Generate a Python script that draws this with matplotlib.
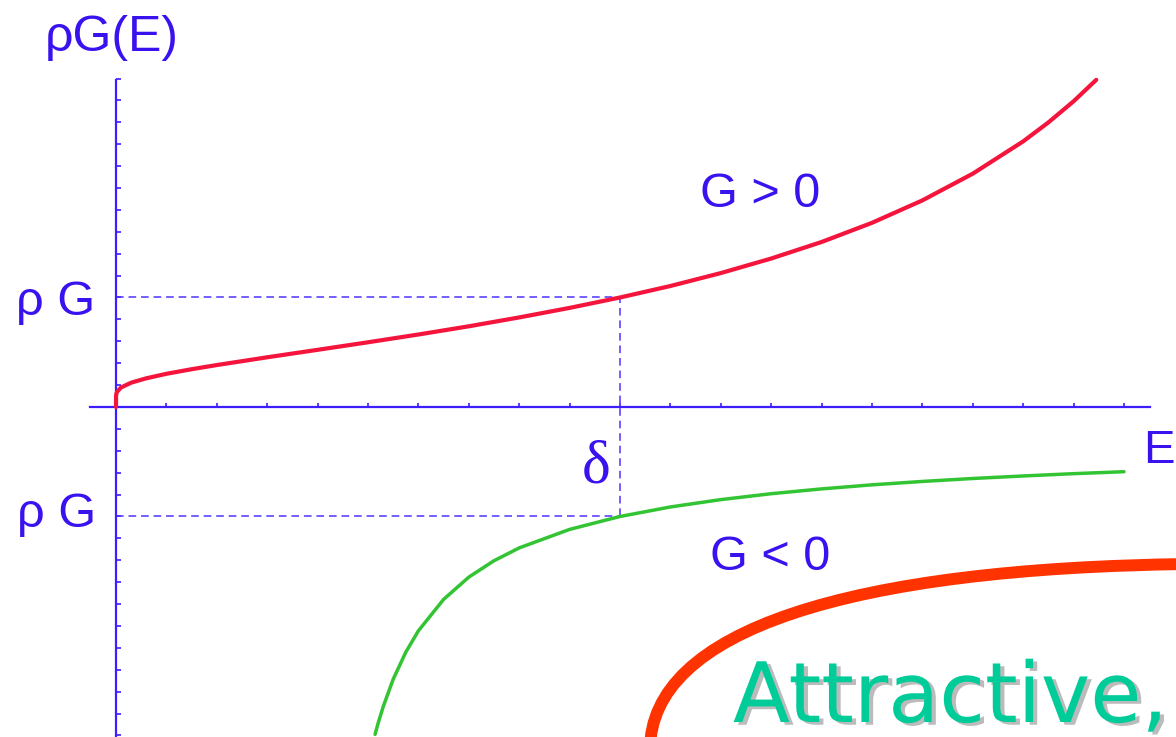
# running coupling rho*G(E) for both signs of G, with delta and rho*G marked

import matplotlib.pyplot as plt
import matplotlib.patheffects as pe
from matplotlib.path import Path
from matplotlib.patches import PathPatch

# energy in units where delta = 10, coupling normalised so rho*G(delta) = +/-1
delta = 10
rho_g = 1.0

E_pos = [0, 0.001, 0.005, 0.02, 0.1, 0.3, 0.6, 1, 1.5, 2, 3, 4, 5, 6, 7, 8, 9,
         10, 11, 12, 13, 14, 15, 16, 17, 18, 18.5, 19, 19.45]
g_pos = [0, 0.098, 0.116, 0.139, 0.178, 0.222, 0.262, 0.303, 0.345, 0.383,
         0.454, 0.522, 0.591, 0.662, 0.737, 0.818, 0.905, 1.0, 1.105, 1.223,
         1.356, 1.507, 1.682, 1.887, 2.131, 2.426, 2.599, 2.792, 2.988]

E_neg = [5.14, 5.2, 5.3, 5.5, 5.75, 6, 6.5, 7, 7.5, 8, 9, 10, 11, 12, 13, 14,
         15, 16, 17, 18, 19, 20]
g_neg = [-2.99, -2.889, -2.739, -2.486, -2.239, -2.044, -1.757, -1.554, -1.404,
         -1.287, -1.118, -1.0, -0.913, -0.846, -0.792, -0.748, -0.711, -0.680,
         -0.653, -0.630, -0.609, -0.591]

x_ticks = list(range(1, 21))
y_ticks = [round(-3 + 0.2 * i, 1) for i in range(31)]

axis_blue = '#3c1eff'
text_blue = '#3a12f0'

fig = plt.figure(figsize=(11.76, 7.37), dpi=100)
ax = fig.add_axes([0, 0, 1, 1])
ax.set_xlim(-2.302, 21.032)
ax.set_ylim(-3.014, 3.717)

# axes crossing at the origin
for side in ['top', 'right']:
    ax.spines[side].set_visible(False)
ax.spines['left'].set_position(('data', 0))
ax.spines['bottom'].set_position(('data', 0))
ax.spines['left'].set_bounds(-3.1, 2.99)
ax.spines['bottom'].set_bounds(-0.52, 20.52)
for side in ['left', 'bottom']:
    ax.spines[side].set_color(axis_blue)
    ax.spines[side].set_linewidth(1.6)

ax.set_xticks(x_ticks)
ax.set_yticks(y_ticks)
ax.set_xticklabels([])
ax.set_yticklabels([])
ax.tick_params(axis='x', direction='in', length=3, width=1.2, color=axis_blue)
ax.tick_params(axis='y', direction='in', length=3.5, width=1.2, color=axis_blue)

# curves
ax.plot(E_pos, g_pos, color='#f5143c', lw=3.0, solid_capstyle='round', zorder=3)
ax.plot(E_neg, g_neg, color='#33c433', lw=2.5, solid_capstyle='round', zorder=3)

# guide lines at delta
dash = dict(color='#4d33ff', lw=1.1, linestyle=(0, (5, 3.2)), zorder=2)
ax.plot([0, delta], [rho_g, rho_g], **dash)
ax.plot([0, delta], [-rho_g, -rho_g], **dash)
ax.plot([delta, delta], [-rho_g, rho_g], **dash)

# labels
sans = 'Liberation Sans'
ax.text(-1.41, 3.255, 'ρG(E)', fontsize=36, family=sans, color=text_blue,
        ha='left', va='baseline')
ax.text(-0.42, 0.84, 'ρ G', fontsize=35, family=sans, color=text_blue,
        ha='right', va='baseline')
ax.text(-0.40, -1.096, 'ρ G', fontsize=35, family=sans, color=text_blue,
        ha='right', va='baseline')
ax.text(11.58, 1.826, 'G > 0', fontsize=35, family=sans, color=text_blue,
        ha='left', va='baseline')
ax.text(11.78, -1.489, 'G < 0', fontsize=35, family=sans, color=text_blue,
        ha='left', va='baseline')
ax.text(20.38, -0.511, 'E', fontsize=34, family=sans, color=text_blue,
        ha='left', va='baseline')
ax.text(9.82, -0.69, 'δ', fontsize=44, family='Liberation Serif',
        color=text_blue, ha='right', va='baseline')

# callout drawn in pixel coordinates on top
over = fig.add_axes([0, 0, 1, 1], zorder=5)
over.set_xlim(0, 1176)
over.set_ylim(737, 0)
over.axis('off')
over.patch.set_alpha(0)

outline = Path([(650, 750), (650, 630), (850, 568), (1190, 564)],
               [Path.MOVETO, Path.CURVE4, Path.CURVE4, Path.CURVE4])
over.add_patch(PathPatch(outline, facecolor='none', edgecolor='#ff3300',
                         lw=8.6, capstyle='butt'))

over.text(733, 722, 'Attractive,', fontsize=60, family='DejaVu Sans',
          color='#00cc99', ha='left', va='baseline',
          path_effects=[pe.withSimplePatchShadow(offset=(3, -2),
                                                 shadow_rgbFace='#bbbbbb',
                                                 alpha=1.0)])

fig.savefig('out.png', dpi=100)
